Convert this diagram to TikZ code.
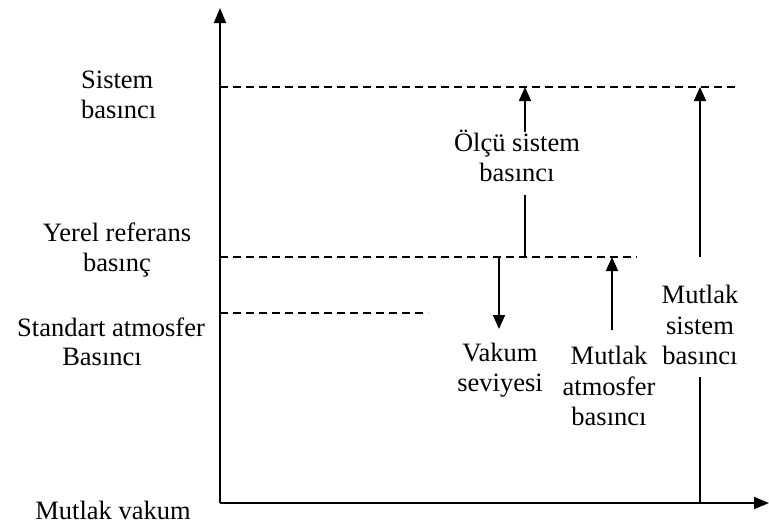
\documentclass[tikz,border=0pt]{standalone}
\usepackage{fontspec}
\setmainfont{Liberation Serif}
\usetikzlibrary{arrows.meta}
\begin{document}
\begin{tikzpicture}[x=1pt,y=-1pt,
  lbl/.style={font=\fontsize{26.5}{30.5}\selectfont, inner sep=0pt, align=center},
  axis/.style={line width=1.8pt, -{Triangle[length=15pt,width=12pt]}},
  level/.style={line width=1.2pt, dash pattern=on 8pt off 5pt},
  arr/.style={line width=1.6pt, -{Triangle[length=14pt,width=12pt]}},
  seg/.style={line width=1.6pt}]
\useasboundingbox (0,0) rectangle (769,525);

% axes
\coordinate (O) at (220,503);
\coordinate (ytop) at (220,8);
\coordinate (xend) at (769,503);
\draw[axis] (O) -- (ytop);
\draw[axis] (O) -- (xend);

% pressure levels
\coordinate (sysL) at (220,87);  \coordinate (sysR) at (735,87);
\coordinate (locL) at (220,257); \coordinate (locR) at (637,257);
\coordinate (stdL) at (220,313); \coordinate (stdR) at (428,313);
\draw[level] (sysL) -- (sysR);
\draw[level] (locL) -- (locR);
\draw[level] (stdL) -- (stdR);

% left-hand labels
\node[lbl, anchor=west, align=left] (sistem) at (81,95) {Sistem\\basıncı};
\node[lbl] (yerel) at (117,250) {Yerel referans\\basınç};
\node[lbl] (standart) at (111,327) {Standart atmosfer};
\node[lbl] (standartb) at (102,357) {Basıncı};
\node[lbl] (vakum) at (113,510) {Mutlak vakum};

% gauge pressure
\node[lbl] (gauge) at (517,156) {Ölçü sistem\\basıncı};
\coordinate (g0) at (525,257);
\coordinate (g1) at (525,195);
\coordinate (g2) at (525,132);
\coordinate (g3) at (525,87);
\draw[seg] (g0) -- (g1);
\draw[arr] (g2) -- (g3);

% vacuum
\coordinate (v0) at (499,257);
\coordinate (v1) at (499,329);
\draw[arr] (v0) -- (v1);
\node[lbl] (vac) at (500,370) {Vakum\\seviyesi};

% absolute atmospheric pressure
\coordinate (a0) at (612,330);
\coordinate (a1) at (612,257);
\draw[arr] (a0) -- (a1);
\node[lbl] (atm) at (609,386) {Mutlak\\atmosfer\\basıncı};

% absolute system pressure
\coordinate (s0) at (700,257);
\coordinate (s1) at (700,87);
\coordinate (s2) at (700,377);
\coordinate (s3) at (700,503);
\draw[arr] (s0) -- (s1);
\draw[seg] (s2) -- (s3);
\node[lbl] (abs) at (700,325) {Mutlak\\sistem\\basıncı};
\end{tikzpicture}
\end{document}
